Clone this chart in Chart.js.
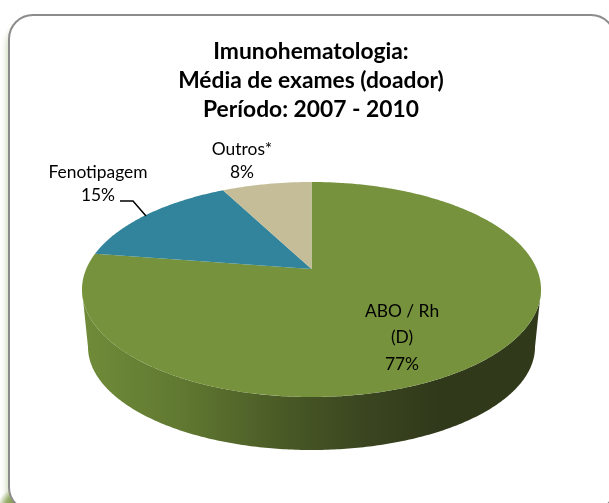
<!DOCTYPE html>
<html>
<head>
<meta charset="utf-8">
<style>
html,body{margin:0;padding:0;background:#fff;overflow:hidden}
#wrap{position:absolute;left:0;top:0;width:609px;height:503px}
</style>
<script src="https://cdn.jsdelivr.net/npm/chart.js@4"></script>
</head>
<body>
<div id="wrap"><canvas id="c" width="609" height="503"></canvas></div>
<script>
// ---- data ----
const categories = ['ABO / Rh (D)', 'Fenotipagem', 'Outros*'];
const labelLines = [['ABO / Rh', '(D)'], ['Fenotipagem'], ['Outros*']];
const values = [77.4, 15.0, 7.6];
const colors = ['#76923c', '#31849b', '#c4bd97'];
const titleLines = ['Imunohematologia:', 'Média de exames (doador)', 'Período: 2007 - 2010'];

const FONT = 'Lato, Carlito, "Open Sans", sans-serif';
const k = 0.1907;                                   // perspective strength
const topDisc = {cx: 311.5, y0: 269, a: 225.3, b: 103.6};
const baseDisc = {cx: 311.5, y0: 327.3, a: 219.4, b: 99.3};
const labelPos = [
  {x: 402, y: 311, lh: 26.5},
  {x: 98, y: 172, lh: 23},
  {x: 242, y: 149, lh: 23}
];

function project(d, angle) {
  const u = Math.cos(angle), v = Math.sin(angle), w = 1 - k * v;
  return [d.cx + d.a * u / w, d.y0 + d.b * v / w];
}

function traceArc(ctx, d, from, to, first) {
  const n = Math.max(8, Math.ceil(Math.abs(to - from) * 90));
  for (let i = 0; i <= n; i++) {
    const p = project(d, from + (to - from) * i / n);
    if (i === 0 && first) ctx.moveTo(p[0], p[1]); else ctx.lineTo(p[0], p[1]);
  }
}

const frame = {
  id: 'frame',
  beforeDraw(chart) {
    const ctx = chart.ctx;
    ctx.save();
    ctx.fillStyle = '#fff';
    ctx.fillRect(0, 0, 609, 503);
    // stronger glow in the bottom corners
    [[16, 508, 19], [612, 508, 18]].forEach(([x, y, r]) => {
      const g = ctx.createRadialGradient(x, y, 0, x, y, r);
      g.addColorStop(0, 'rgba(118,146,60,1)');
      g.addColorStop(0.6, 'rgba(118,146,60,0.7)');
      g.addColorStop(1, 'rgba(118,146,60,0)');
      ctx.fillStyle = g;
      ctx.fillRect(x - r, y - r, 2 * r, 2 * r);
    });
    ctx.shadowColor = 'rgba(118,146,60,0.4)';
    ctx.shadowBlur = 6;
    ctx.shadowOffsetX = -2;
    ctx.shadowOffsetY = 7;
    ctx.beginPath();
    ctx.roundRect(9, 15, 606, 496, 24);
    ctx.fillStyle = '#fff';
    ctx.fill();
    ctx.shadowColor = 'transparent';
    ctx.strokeStyle = '#8c8c8c';
    ctx.lineWidth = 2;
    ctx.stroke();
    ctx.restore();
  }
};

const pie3d = {
  id: 'pie3d',
  beforeDatasetDraw(chart, args) {
    const ctx = chart.ctx;
    const arcs = chart.getDatasetMeta(args.index).data;
    const left = Math.PI - Math.asin(k);            // silhouette tangent on the left
    const right = Math.asin(k);
    // side wall (front of the first slice)
    const grad = ctx.createLinearGradient(82, 0, 541, 0);
    grad.addColorStop(0, '#708c39');
    grad.addColorStop(0.22, '#607831');
    grad.addColorStop(0.45, '#485825');
    grad.addColorStop(0.62, '#3a4520');
    grad.addColorStop(0.78, '#30391a');
    grad.addColorStop(1, '#30391a');
    ctx.save();
    ctx.beginPath();
    traceArc(ctx, topDisc, right, left, true);
    traceArc(ctx, baseDisc, left, right, false);
    ctx.closePath();
    ctx.fillStyle = grad;
    ctx.fill();
    // top surface: angles come from the library's arc elements
    arcs.forEach((arc, i) => {
      const p = arc.getProps(['startAngle', 'endAngle'], true);
      ctx.beginPath();
      ctx.moveTo(topDisc.cx, topDisc.y0);
      traceArc(ctx, topDisc, p.startAngle, p.endAngle, false);
      ctx.closePath();
      ctx.fillStyle = colors[i];
      ctx.fill();
    });
    ctx.restore();
    return false;
  },
  afterDatasetsDraw(chart) {
    const ctx = chart.ctx;
    const total = values.reduce((a, b) => a + b, 0);
    ctx.save();
    ctx.fillStyle = '#000';
    ctx.font = '17.4px ' + FONT;
    ctx.textAlign = 'center';
    ctx.textBaseline = 'middle';
    values.forEach((val, i) => {
      const lines = labelLines[i].concat([Math.round(val / total * 100) + '%']);
      const pos = labelPos[i];
      lines.forEach((t, j) => ctx.fillText(t, pos.x, pos.y + j * pos.lh));
    });
    // leader line of the Fenotipagem label
    ctx.strokeStyle = '#000';
    ctx.lineWidth = 1.5;
    ctx.beginPath();
    ctx.moveTo(120, 201);
    ctx.lineTo(133, 201);
    ctx.lineTo(146, 216);
    ctx.stroke();
    ctx.restore();
  }
};

new Chart(document.getElementById('c'), {
  type: 'pie',
  data: {
    labels: categories,
    datasets: [{data: values, backgroundColor: colors, borderWidth: 0}]
  },
  plugins: [frame, pie3d],
  options: {
    responsive: false,
    animation: false,
    layout: {padding: {left: 13}},
    plugins: {
      legend: {display: false},
      tooltip: {enabled: false},
      title: {
        display: true,
        text: titleLines,
        color: '#000',
        font: {family: FONT, size: 22.8, weight: 'bold', lineHeight: 1.27},
        padding: {top: 37.5, bottom: 0},
        align: 'center'
      }
    }
  }
});
</script>
</body>
</html>
